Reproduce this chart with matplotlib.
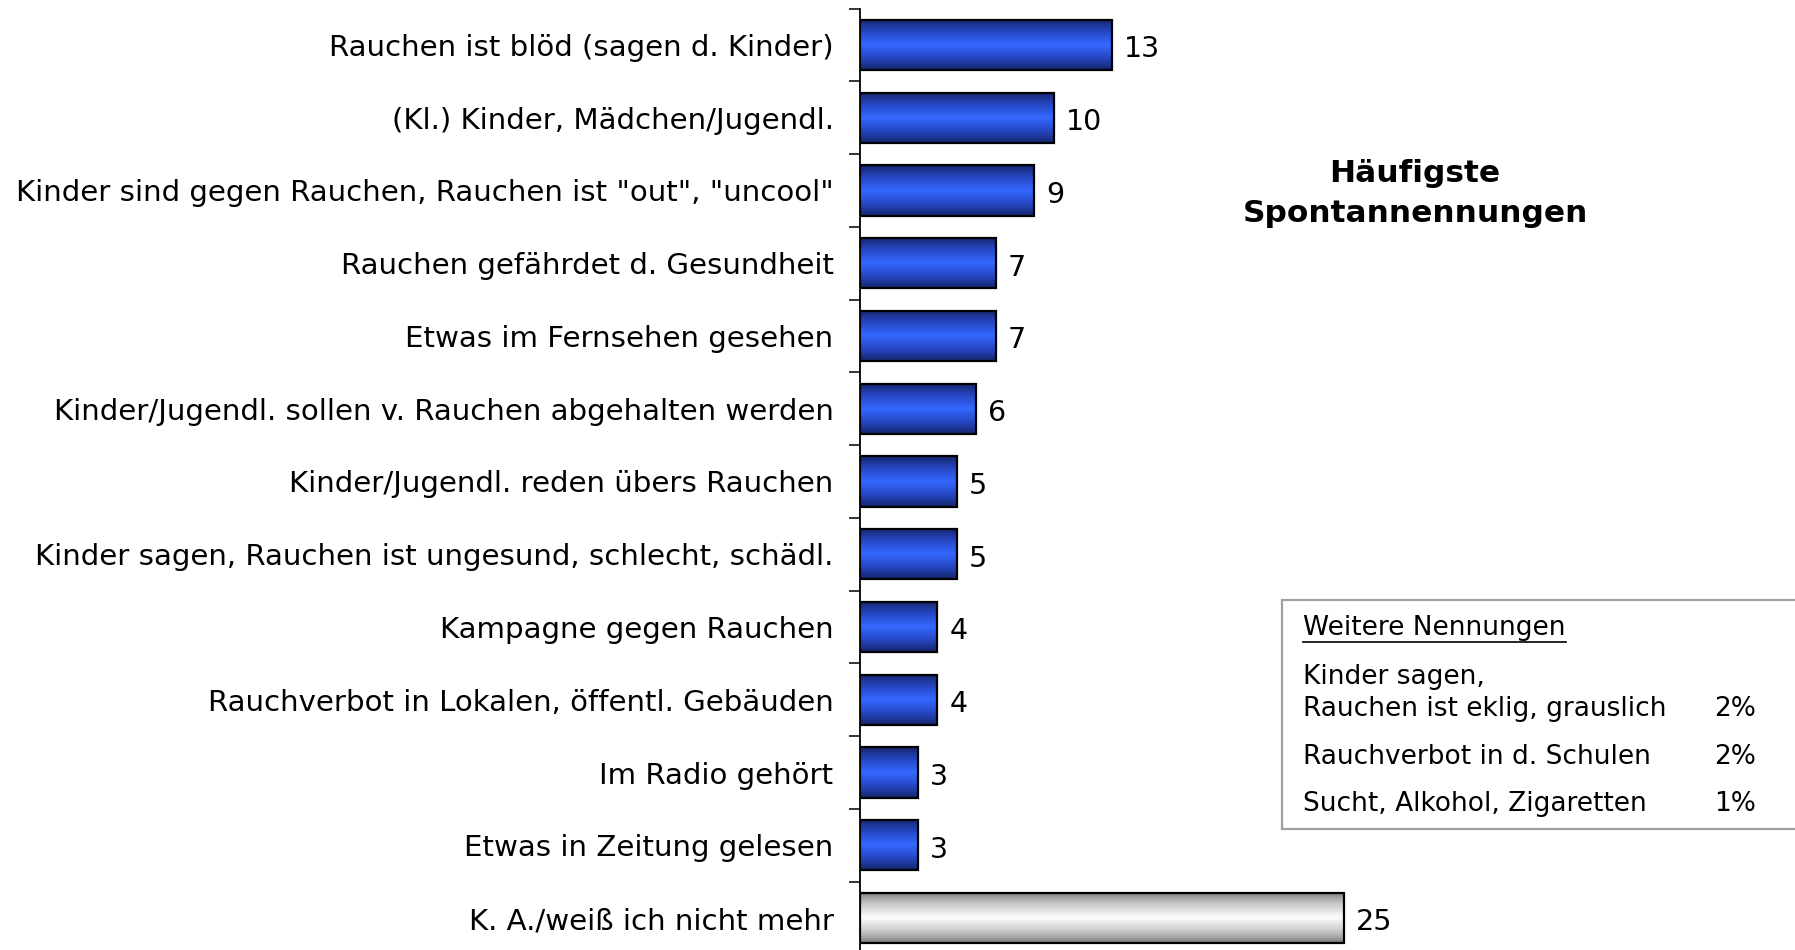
import numpy as np
import matplotlib
matplotlib.use("Agg")
import matplotlib.pyplot as plt
from matplotlib.colors import LinearSegmentedColormap
from matplotlib.patches import Rectangle

categories = [
    "Rauchen ist blöd (sagen d. Kinder)",
    "(Kl.) Kinder, Mädchen/Jugendl.",
    "Kinder sind gegen Rauchen, Rauchen ist \"out\", \"uncool\"",
    "Rauchen gefährdet d. Gesundheit",
    "Etwas im Fernsehen gesehen",
    "Kinder/Jugendl. sollen v. Rauchen abgehalten werden",
    "Kinder/Jugendl. reden übers Rauchen",
    "Kinder sagen, Rauchen ist ungesund, schlecht, schädl.",
    "Kampagne gegen Rauchen",
    "Rauchverbot in Lokalen, öffentl. Gebäuden",
    "Im Radio gehört",
    "Etwas in Zeitung gelesen",
    "K. A./weiß ich nicht mehr",
]
values = [13, 10, 9, 7, 7, 6, 5, 5, 4, 4, 3, 3, 25]
is_gray = [False] * 12 + [True]

other_labels = ["Kinder sagen,\nRauchen ist eklig, grauslich",
                "Rauchverbot in d. Schulen",
                "Sucht, Alkohol, Zigaretten"]
other_values = ["2%", "2%", "1%"]

W, H = 1795, 950
plt.rcParams['font.family'] = ['DejaVu Sans']
fig = plt.figure(figsize=(W / 100, H / 100), dpi=100)

ax_left = 860 / W
ax_top = 8.6 / H
ax_bottom = 954.4 / H
ax = fig.add_axes([ax_left, 1 - ax_bottom, 1 - ax_left, ax_bottom - ax_top])

n = len(categories)
y = np.arange(n)
bh = 0.69

blue_cmap = LinearSegmentedColormap.from_list(
    "b", [(0, "#142466"), (0.5, "#2545c0"), (1, "#3468ff")])
gray_cmap = LinearSegmentedColormap.from_list(
    "g", [(0, "#707070"), (0.5, "#c0c0c0"), (1, "#fcfcfc")])

t = np.linspace(0, 1, 200)
tri = 1 - np.abs(2 * t - 1)

bars = ax.barh(y, values, height=bh, color="none", edgecolor="black",
               linewidth=1.6, zorder=3)
for b, v, g, yy in zip(bars, values, is_gray, y):
    prof = tri ** (0.75 if g else 0.9)
    im = ax.imshow(prof.reshape(-1, 1), extent=(0, v, yy + bh / 2, yy - bh / 2),
                   aspect="auto", cmap=gray_cmap if g else blue_cmap,
                   interpolation="bilinear", zorder=2)
    im.set_clip_path(b)
    ax.text(v + 0.62, yy + 0.06, f"{v}", va="center", ha="left", fontsize=20.5,
            color="black")

ax.set_xlim(0, 935 / 19.37)
ax.set_ylim(n - 0.5, -0.5)

for s in ["top", "right", "bottom"]:
    ax.spines[s].set_visible(False)
ax.spines["left"].set_linewidth(1.3)
ax.set_xticks([])
ax.set_yticks(np.arange(-0.5, n, 1.0))
ax.set_yticklabels([])
ax.tick_params(axis="y", which="major", direction="out", length=8, width=1.1)
ax.set_yticks(y, minor=True)
ax.set_yticklabels(categories, minor=True, fontsize=21.1)
ax.tick_params(axis="y", which="minor", length=0, pad=19)

fig.text(1415 / W, 1 - 174 / H, "Häufigste", ha="center", va="center",
         fontsize=22.5, fontweight="bold")
fig.text(1415 / W, 1 - 214 / H, "Spontannennungen", ha="center", va="center",
         fontsize=22.5, fontweight="bold")

# box with further mentions
box = Rectangle((1282 / W, 1 - 829 / H), (1810 - 1282) / W, (829 - 600) / H,
                transform=fig.transFigure, facecolor="white",
                edgecolor="#a0a0a0", linewidth=1.6, clip_on=False)
fig.add_artist(box)
lx = 1303 / W
fs = 19
tt = fig.text(lx, 1 - 628 / H, "Weitere Nennungen", ha="left", va="center",
              fontsize=fs)
fig.canvas.draw()
bb = tt.get_window_extent()
fig.add_artist(plt.Line2D([bb.x0 / W, bb.x1 / W],
                          [(bb.y0 - 1) / H, (bb.y0 - 1) / H],
                          transform=fig.transFigure, color="black", lw=1.2))
first, second = other_labels[0].split("\n")
fig.text(lx, 1 - 677 / H, first, ha="left", va="center", fontsize=fs)
fig.text(lx, 1 - 709 / H, second, ha="left", va="center", fontsize=fs)
fig.text(lx, 1 - 757 / H, other_labels[1], ha="left", va="center", fontsize=fs)
fig.text(lx, 1 - 804 / H, other_labels[2], ha="left", va="center", fontsize=fs)
for yy, v in zip([709, 757, 804], other_values):
    fig.text(1714 / W, 1 - yy / H, v, ha="left", va="center", fontsize=fs)

fig.savefig("out.png", dpi=100)
